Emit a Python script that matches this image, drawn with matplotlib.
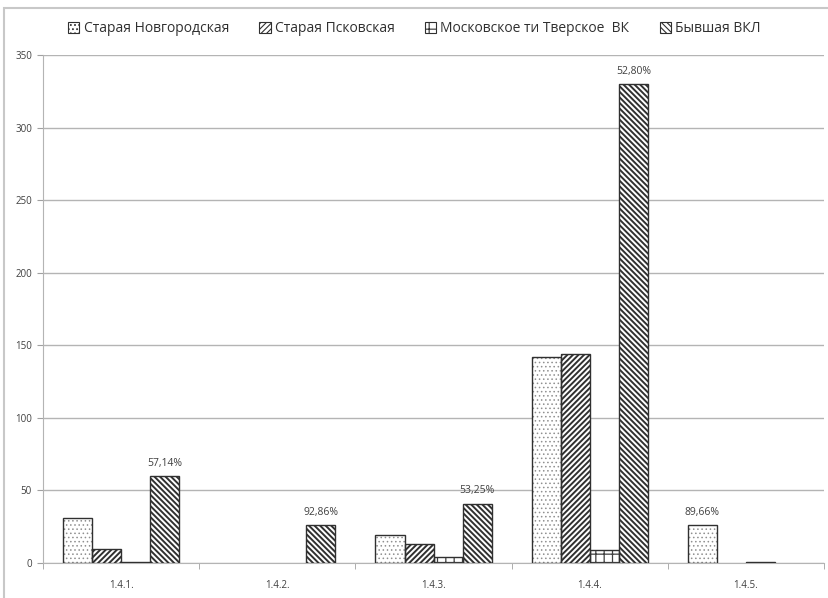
import matplotlib.pyplot as plt
import matplotlib.patches as mpatches
import numpy as np

plt.rcParams['font.family'] = ['Open Sans', 'DejaVu Sans']

groups = ["1.4.1.", "1.4.2.", "1.4.3.", "1.4.4.", "1.4.5."]
series_names = ["Старая Новгородская", "Старая Псковская",
                "Московское ти Тверское  ВК", "Бывшая ВКЛ"]
novgorod = [31, 0, 19, 142, 26]
pskov = [10, 0, 13, 144, 0]
moscow = [1, 0, 4, 9, 1]
vkl = [60, 26, 41, 330, 0]
pct_labels = ["57,14%", "92,86%", "53,25%", "52,80%", "89,66%"]
pct_series = [3, 3, 3, 3, 0]  # над каким столбцом подпись

series = [novgorod, pskov, moscow, vkl]
hatches = ['....', '//////', '++', '\\\\\\\\\\\\']
hatch_lw = [0.6, 1.4, 0.9, 1.4]
hatch_col = ['#909090', '#303030', '#404040', '#303030']

fig = plt.figure(figsize=(8.29, 5.98), dpi=100)
ax = fig.add_axes([0.052, 0.0585, 0.942, 0.8495])

# рамка вокруг диаграммы
fig.patches.append(mpatches.Rectangle((4 / 829, -0.05), 1.0, 1 - 8 / 598 + 0.05,
                                      transform=fig.transFigure, fill=False,
                                      edgecolor='#c8c8c8', linewidth=1.5))

x = np.arange(len(groups))
w = 0.186
handles = []
for i, vals in enumerate(series):
    plt.rcParams['hatch.linewidth'] = hatch_lw[i]
    pos = x + (i - 1.5) * w
    # нулевые столбцы не рисуем
    h = np.array(vals, dtype=float)
    h[h == 0] = np.nan
    # штриховка отдельно, контур отдельно
    ax.bar(pos, h, w, facecolor='white', edgecolor=hatch_col[i],
           hatch=hatches[i], linewidth=0, zorder=3)
    ax.bar(pos, h, w, fill=False, edgecolor='#303030', linewidth=1.0, zorder=4)
    handles.append(mpatches.Patch(facecolor='white', edgecolor='#303030',
                                  hatch=hatches[i], linewidth=0.8))

for g in range(len(groups)):
    s = pct_series[g]
    val = series[s][g]
    ax.text(x[g] + (s - 1.5) * w, val + 5, pct_labels[g], ha='center', va='bottom',
            fontsize=7.5, color='#404040')

ax.set_xlim(-0.5, len(groups) - 0.5)
ax.set_ylim(0, 350)
ax.set_yticks(range(0, 351, 50))
ax.yaxis.grid(True, color='#b4b4b4', linewidth=1.0, zorder=0)
ax.set_axisbelow(True)

ax.set_xticks(x)
ax.set_xticklabels(groups)
ax.set_xticks(np.arange(-0.5, len(groups)), minor=True)
ax.tick_params(axis='x', which='major', length=0, pad=12, labelsize=7, labelcolor='#404040')
ax.tick_params(axis='x', which='minor', length=4, color='#a0a0a0', direction='out')
ax.tick_params(axis='y', length=4, color='#a0a0a0', labelsize=7, labelcolor='#404040', pad=4)

for side in ['top', 'right']:
    ax.spines[side].set_visible(False)
ax.spines['left'].set_color('#b4b4b4')
ax.spines['bottom'].set_color('#b4b4b4')

plt.rcParams['hatch.linewidth'] = 0.8
fig.legend(handles, series_names, loc='upper center', bbox_to_anchor=(0.5, 0.985),
           ncol=4, frameon=False, fontsize=10, handlelength=0.8, handleheight=0.8,
           handletextpad=0.3, columnspacing=2.2, labelcolor='#303030')

fig.savefig("out.png", dpi=100)
